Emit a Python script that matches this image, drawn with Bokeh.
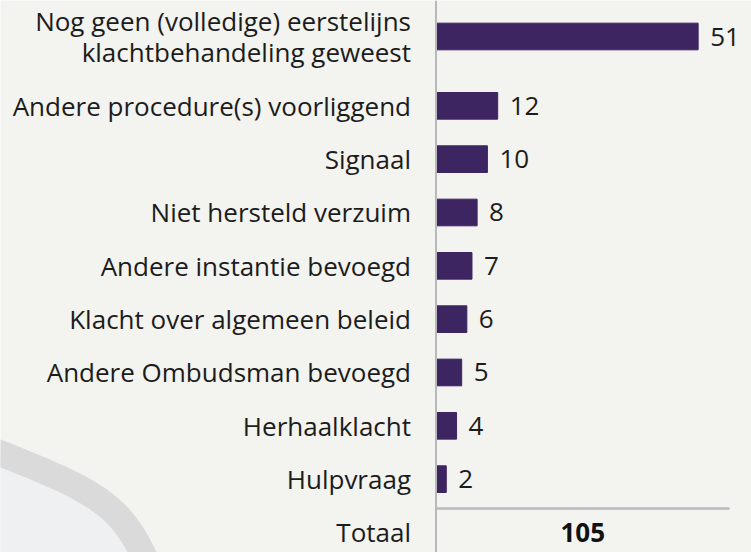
import numpy as np
from bokeh.plotting import figure
from bokeh.models import Range1d, ColumnDataSource, Span
from bokeh.embed import file_html
from bokeh.resources import INLINE
from bokeh.core.properties import value

# ---- data ----
categories = [
    "Nog geen (volledige) eerstelijns\nklachtbehandeling geweest",
    "Andere procedure(s) voorliggend",
    "Signaal",
    "Niet hersteld verzuim",
    "Andere instantie bevoegd",
    "Klacht over algemeen beleid",
    "Andere Ombudsman bevoegd",
    "Herhaalklacht",
    "Hulpvraag",
]
counts = [51, 12, 10, 8, 7, 6, 5, 4, 2]
total_label = "Totaal"
total_value = 105

# ---- layout constants ----
W, H = 751, 552
X0_PX = 435.5          # pixel of x = 0
PX_PER_UNIT = 5.14
ROW_PX = 53.33
FIRST_ROW_PX = 36
FIRST_GAP = 0.3        # extra space after two-line first row
TOTAL_LINE_END = 57.1  # data units
FONT = "Open Sans"
FS = "26px"
TXT = "#1c1c1c"
BAR = "#3c2561"
BG = "#f3f3ef"

ys = [i + (FIRST_GAP if i > 0 else 0) for i in range(len(categories))]
y_total = len(categories) + FIRST_GAP

x_start = -X0_PX / PX_PER_UNIT
x_end = (W - X0_PX) / PX_PER_UNIT
y_top = -FIRST_ROW_PX / ROW_PX
y_bottom = y_top + H / ROW_PX

p = figure(width=W, height=H, x_range=Range1d(x_start, x_end),
           y_range=Range1d(y_bottom, y_top), output_backend="svg",
           toolbar_location=None, x_axis_location=None, y_axis_location=None,
           min_border=0)
p.grid.visible = False
p.outline_line_color = None
p.background_fill_color = BG
p.border_fill_color = BG

# ---- decorative curve (pixel space -> data space) ----
def dx(xp):
    return (np.asarray(xp) - X0_PX) / PX_PER_UNIT

def dy(yp):
    return y_top + np.asarray(yp) / ROW_PX

t = np.linspace(0, 1, 60)
P0, C0, C1, P1 = (-15, 447), (110, 496), (125, 505), (158, 590)
bx = ((1 - t) ** 3 * P0[0] + 3 * (1 - t) ** 2 * t * C0[0]
      + 3 * (1 - t) * t ** 2 * C1[0] + t ** 3 * P1[0])
by = ((1 - t) ** 3 * P0[1] + 3 * (1 - t) ** 2 * t * C0[1]
      + 3 * (1 - t) * t ** 2 * C1[1] + t ** 3 * P1[1])
px_poly = np.concatenate([bx, [-20, -20]])
py_poly = np.concatenate([by, [600, 447]])
p.patch(dx(px_poly), dy(py_poly), fill_color="#eff0f2", line_color=None)
p.line(dx(bx), dy(by), line_width=26, line_color="#dadada", line_join="round")

# ---- axis lines ----
p.add_layout(Span(location=0, dimension="height", line_color="#b8b9bb", line_width=2))
p.segment(x0=[0], x1=[TOTAL_LINE_END], y0=[y_total - 0.45], y1=[y_total - 0.45],
          line_color="#b8b9bb", line_width=2.5)

# ---- bars ----
src = ColumnDataSource(dict(y=ys, v=counts, cat=categories,
                            lbl=[str(c) for c in counts]))
p.hbar(y="y", left=0, right="v", height=0.5, source=src,
       fill_color=BAR, line_color=BAR)

p.text(x=0, y="y", text="cat", source=src, x_offset=-25, text_align="right",
       text_baseline="middle", text_font=value(FONT), text_font_size=FS,
       text_color=TXT, text_line_height=0.85)
p.text(x="v", y="y", text="lbl", source=src, x_offset=12, text_align="left",
       text_baseline="middle", text_font=value(FONT), text_font_size=FS,
       text_color=TXT)

# ---- total row ----
p.text(x=[0], y=[y_total], text=[total_label], x_offset=-25, text_align="right",
       text_baseline="middle", text_font=value(FONT), text_font_size=FS,
       text_color=TXT)
p.text(x=[TOTAL_LINE_END / 2], y=[y_total], text=[str(total_value)],
       text_align="center", text_baseline="middle", text_font=value(FONT),
       text_font_size=FS, text_font_style="bold", text_color="#111111")

open("out.html", "w").write(file_html(p, INLINE))
